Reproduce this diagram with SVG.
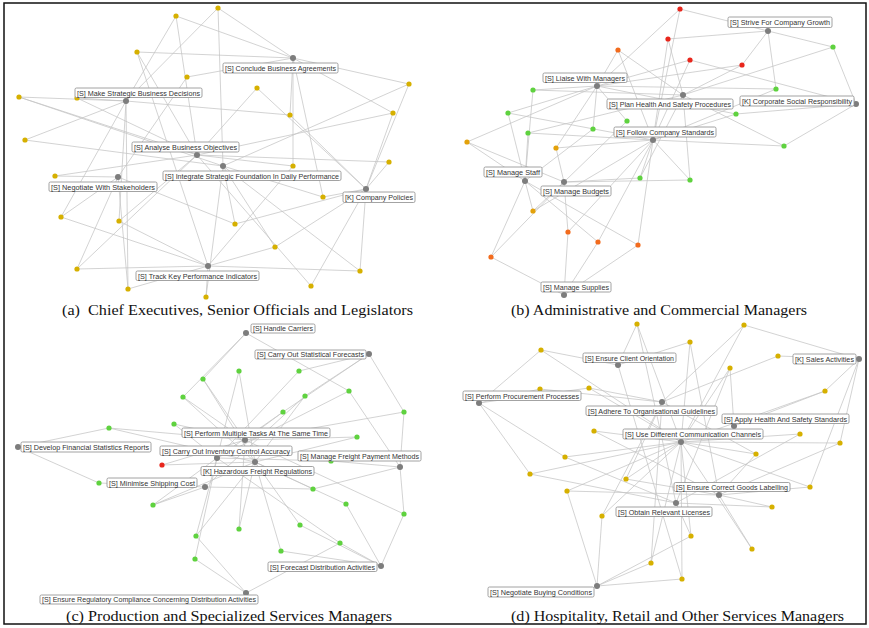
<svg xmlns="http://www.w3.org/2000/svg" width="869" height="628" viewBox="0 0 869 628">
<style>
.e line{stroke:#c4c4c4;stroke-width:0.75}
.y{fill:#d6b000}.g{fill:#5fd23f}.r{fill:#e8261c}.o{fill:#f26b1d}.am{fill:#e3a10a}
.h{fill:#7d7d7d}
.lb{fill:#fff;stroke:#8c8c8c;stroke-width:0.8}
.t{font-family:"Liberation Sans",Arial,sans-serif;font-size:7.4px;fill:#333}
.cap{font-family:"Liberation Serif","Times New Roman",serif;font-size:15.5px;fill:#111}
</style>
<rect x="4" y="3" width="862" height="621" fill="#fff" stroke="#111" stroke-width="1.5"/>
<g id="connectors" class="e">
<!-- panel a -->
<line x1="176" y1="16" x2="293" y2="58"/><line x1="176" y1="16" x2="197" y2="155"/><line x1="176" y1="16" x2="126" y2="101"/>
<line x1="218" y1="8" x2="293" y2="58"/><line x1="218" y1="8" x2="126" y2="101"/><line x1="218" y1="8" x2="223" y2="166"/>
<line x1="137" y1="52" x2="293" y2="58"/><line x1="137" y1="52" x2="197" y2="155"/><line x1="137" y1="52" x2="208" y2="266"/>
<line x1="187" y1="77" x2="293" y2="58"/><line x1="187" y1="77" x2="118" y2="177"/>
<line x1="257" y1="88" x2="197" y2="155"/><line x1="257" y1="88" x2="366" y2="189"/>
<line x1="19" y1="97" x2="126" y2="101"/><line x1="19" y1="97" x2="197" y2="155"/><line x1="19" y1="97" x2="223" y2="166"/>
<line x1="77" y1="98" x2="126" y2="101"/><line x1="77" y1="98" x2="197" y2="155"/>
<line x1="290" y1="115" x2="126" y2="101"/><line x1="290" y1="115" x2="366" y2="189"/><line x1="290" y1="115" x2="293" y2="58"/>
<line x1="409" y1="84" x2="293" y2="58"/><line x1="409" y1="84" x2="223" y2="166"/><line x1="409" y1="84" x2="366" y2="189"/>
<line x1="393" y1="113" x2="293" y2="58"/><line x1="393" y1="113" x2="197" y2="155"/><line x1="393" y1="113" x2="366" y2="189"/>
<line x1="25" y1="140" x2="126" y2="101"/><line x1="25" y1="140" x2="223" y2="166"/>
<line x1="55" y1="176" x2="118" y2="177"/><line x1="55" y1="176" x2="197" y2="155"/>
<line x1="293" y1="166" x2="197" y2="155"/><line x1="293" y1="166" x2="293" y2="58"/><line x1="293" y1="166" x2="208" y2="266"/>
<line x1="389" y1="162" x2="197" y2="155"/><line x1="389" y1="162" x2="366" y2="189"/>
<line x1="323" y1="197" x2="223" y2="166"/><line x1="323" y1="197" x2="366" y2="189"/><line x1="323" y1="197" x2="293" y2="58"/>
<line x1="61" y1="217" x2="118" y2="177"/><line x1="61" y1="217" x2="208" y2="266"/><line x1="61" y1="217" x2="126" y2="101"/>
<line x1="119" y1="221" x2="126" y2="101"/><line x1="119" y1="221" x2="197" y2="155"/><line x1="119" y1="221" x2="208" y2="266"/>
<line x1="235" y1="224" x2="118" y2="177"/><line x1="235" y1="224" x2="223" y2="166"/><line x1="235" y1="224" x2="366" y2="189"/>
<line x1="275" y1="247" x2="223" y2="166"/><line x1="275" y1="247" x2="366" y2="189"/><line x1="275" y1="247" x2="208" y2="266"/>
<line x1="77" y1="269" x2="118" y2="177"/><line x1="77" y1="269" x2="208" y2="266"/><line x1="77" y1="269" x2="197" y2="155"/>
<line x1="360" y1="271" x2="208" y2="266"/><line x1="360" y1="271" x2="366" y2="189"/><line x1="360" y1="271" x2="223" y2="166"/>
<line x1="128" y1="289" x2="118" y2="177"/><line x1="128" y1="289" x2="208" y2="266"/><line x1="128" y1="289" x2="126" y2="101"/>
<line x1="206" y1="297" x2="208" y2="266"/><line x1="206" y1="297" x2="223" y2="166"/>
<line x1="311" y1="286" x2="366" y2="189"/><line x1="311" y1="286" x2="197" y2="155"/>
<!-- panel b -->
<line x1="680" y1="9" x2="768" y2="31"/><line x1="680" y1="9" x2="597" y2="86"/><line x1="680" y1="9" x2="653" y2="140"/>
<line x1="668" y1="39" x2="768" y2="31"/><line x1="668" y1="39" x2="683" y2="95"/><line x1="668" y1="39" x2="653" y2="140"/>
<line x1="690" y1="60" x2="597" y2="86"/><line x1="690" y1="60" x2="653" y2="140"/><line x1="690" y1="60" x2="856" y2="104"/>
<line x1="742" y1="65" x2="768" y2="31"/><line x1="742" y1="65" x2="683" y2="95"/><line x1="742" y1="65" x2="597" y2="86"/>
<line x1="618" y1="50" x2="597" y2="86"/><line x1="618" y1="50" x2="683" y2="95"/><line x1="618" y1="50" x2="653" y2="140"/>
<line x1="833" y1="47" x2="768" y2="31"/><line x1="833" y1="47" x2="856" y2="104"/><line x1="833" y1="47" x2="683" y2="95"/>
<line x1="776" y1="89" x2="768" y2="31"/><line x1="776" y1="89" x2="597" y2="86"/><line x1="776" y1="89" x2="653" y2="140"/>
<line x1="533" y1="90" x2="597" y2="86"/><line x1="533" y1="90" x2="683" y2="95"/><line x1="533" y1="90" x2="525" y2="181"/>
<line x1="508" y1="113" x2="597" y2="86"/><line x1="508" y1="113" x2="653" y2="140"/><line x1="508" y1="113" x2="525" y2="181"/>
<line x1="736" y1="114" x2="597" y2="86"/><line x1="736" y1="114" x2="653" y2="140"/><line x1="736" y1="114" x2="856" y2="104"/>
<line x1="627" y1="121" x2="597" y2="86"/><line x1="627" y1="121" x2="564" y2="182"/>
<line x1="593" y1="129" x2="597" y2="86"/><line x1="593" y1="129" x2="525" y2="181"/>
<line x1="528" y1="133" x2="653" y2="140"/><line x1="528" y1="133" x2="525" y2="181"/><line x1="528" y1="133" x2="683" y2="95"/>
<line x1="784" y1="146" x2="683" y2="95"/><line x1="784" y1="146" x2="856" y2="104"/><line x1="784" y1="146" x2="653" y2="140"/>
<line x1="467" y1="142" x2="597" y2="86"/><line x1="467" y1="142" x2="525" y2="181"/><line x1="467" y1="142" x2="564" y2="182"/>
<line x1="556" y1="148" x2="653" y2="140"/><line x1="556" y1="148" x2="597" y2="86"/><line x1="556" y1="148" x2="564" y2="182"/>
<line x1="640" y1="178" x2="564" y2="182"/><line x1="640" y1="178" x2="653" y2="140"/><line x1="640" y1="178" x2="683" y2="95"/>
<line x1="690" y1="180" x2="564" y2="182"/><line x1="690" y1="180" x2="653" y2="140"/><line x1="690" y1="180" x2="683" y2="95"/>
<line x1="533" y1="211" x2="525" y2="181"/><line x1="533" y1="211" x2="564" y2="182"/><line x1="533" y1="211" x2="653" y2="140"/>
<line x1="568" y1="232" x2="564" y2="182"/><line x1="568" y1="232" x2="564" y2="295"/><line x1="568" y1="232" x2="653" y2="140"/>
<line x1="598" y1="242" x2="525" y2="181"/><line x1="598" y1="242" x2="653" y2="140"/><line x1="598" y1="242" x2="564" y2="295"/>
<line x1="638" y1="245" x2="525" y2="181"/><line x1="638" y1="245" x2="653" y2="140"/><line x1="638" y1="245" x2="564" y2="295"/>
<line x1="491" y1="257" x2="525" y2="181"/><line x1="491" y1="257" x2="564" y2="295"/><line x1="491" y1="257" x2="564" y2="182"/>
<!-- panel c -->
<line x1="203" y1="379" x2="246" y2="333"/><line x1="203" y1="379" x2="255" y2="462"/><line x1="203" y1="379" x2="245" y2="440"/>
<line x1="239" y1="371" x2="255" y2="462"/><line x1="239" y1="371" x2="217" y2="458"/>
<line x1="299" y1="371" x2="369" y2="354"/><line x1="299" y1="371" x2="217" y2="458"/>
<line x1="183" y1="397" x2="246" y2="333"/><line x1="183" y1="397" x2="245" y2="440"/><line x1="183" y1="397" x2="255" y2="462"/>
<line x1="305" y1="396" x2="369" y2="354"/><line x1="305" y1="396" x2="255" y2="462"/><line x1="305" y1="396" x2="205" y2="487"/>
<line x1="349" y1="391" x2="246" y2="333"/><line x1="349" y1="391" x2="400" y2="467"/><line x1="349" y1="391" x2="217" y2="458"/>
<line x1="283" y1="412" x2="369" y2="354"/><line x1="283" y1="412" x2="217" y2="458"/><line x1="283" y1="412" x2="245" y2="440"/>
<line x1="404" y1="412" x2="369" y2="354"/><line x1="404" y1="412" x2="400" y2="467"/><line x1="404" y1="412" x2="245" y2="440"/>
<line x1="174" y1="424" x2="245" y2="440"/><line x1="174" y1="424" x2="217" y2="458"/>
<line x1="109" y1="428" x2="18" y2="447"/><line x1="109" y1="428" x2="245" y2="440"/><line x1="109" y1="428" x2="255" y2="462"/>
<line x1="357" y1="437" x2="245" y2="440"/><line x1="357" y1="437" x2="255" y2="462"/>
<line x1="331" y1="461" x2="400" y2="467"/><line x1="331" y1="461" x2="217" y2="458"/>
<line x1="162" y1="465" x2="255" y2="462"/><line x1="162" y1="465" x2="245" y2="440"/>
<line x1="99" y1="483" x2="18" y2="447"/><line x1="99" y1="483" x2="205" y2="487"/>
<line x1="153" y1="505" x2="205" y2="487"/><line x1="153" y1="505" x2="255" y2="462"/><line x1="153" y1="505" x2="217" y2="458"/>
<line x1="313" y1="489" x2="255" y2="462"/><line x1="313" y1="489" x2="205" y2="487"/><line x1="313" y1="489" x2="400" y2="467"/>
<line x1="346" y1="504" x2="255" y2="462"/><line x1="346" y1="504" x2="381" y2="566"/>
<line x1="404" y1="514" x2="400" y2="467"/><line x1="404" y1="514" x2="381" y2="566"/><line x1="404" y1="514" x2="245" y2="440"/>
<line x1="196" y1="536" x2="255" y2="462"/><line x1="196" y1="536" x2="246" y2="593"/><line x1="196" y1="536" x2="217" y2="458"/>
<line x1="239" y1="529" x2="255" y2="462"/><line x1="239" y1="529" x2="245" y2="440"/>
<line x1="300" y1="525" x2="255" y2="462"/><line x1="300" y1="525" x2="381" y2="566"/>
<line x1="340" y1="543" x2="217" y2="458"/><line x1="340" y1="543" x2="381" y2="566"/><line x1="340" y1="543" x2="246" y2="593"/>
<line x1="281" y1="551" x2="255" y2="462"/><line x1="281" y1="551" x2="381" y2="566"/>
<line x1="195" y1="559" x2="217" y2="458"/><line x1="195" y1="559" x2="246" y2="593"/>
<!-- panel d -->
<line x1="637" y1="324" x2="618" y2="365"/><line x1="637" y1="324" x2="681" y2="442"/><line x1="637" y1="324" x2="676" y2="503"/>
<line x1="744" y1="325" x2="859" y2="359"/><line x1="744" y1="325" x2="681" y2="442"/><line x1="744" y1="325" x2="662" y2="402"/>
<line x1="690" y1="342" x2="618" y2="365"/><line x1="690" y1="342" x2="681" y2="442"/><line x1="690" y1="342" x2="719" y2="495"/>
<line x1="541" y1="350" x2="479" y2="403"/><line x1="541" y1="350" x2="618" y2="365"/><line x1="541" y1="350" x2="681" y2="442"/>
<line x1="778" y1="356" x2="859" y2="359"/><line x1="778" y1="356" x2="662" y2="402"/>
<line x1="730" y1="368" x2="734" y2="426"/><line x1="730" y1="368" x2="681" y2="442"/><line x1="730" y1="368" x2="676" y2="503"/>
<line x1="540" y1="389" x2="479" y2="403"/><line x1="540" y1="389" x2="662" y2="402"/>
<line x1="589" y1="388" x2="662" y2="402"/><line x1="589" y1="388" x2="479" y2="403"/><line x1="589" y1="388" x2="681" y2="442"/>
<line x1="825" y1="391" x2="859" y2="359"/><line x1="825" y1="391" x2="734" y2="426"/><line x1="825" y1="391" x2="681" y2="442"/>
<line x1="594" y1="431" x2="681" y2="442"/><line x1="594" y1="431" x2="719" y2="495"/>
<line x1="800" y1="434" x2="681" y2="442"/><line x1="800" y1="434" x2="676" y2="503"/>
<line x1="840" y1="443" x2="859" y2="359"/><line x1="840" y1="443" x2="681" y2="442"/><line x1="840" y1="443" x2="719" y2="495"/>
<line x1="756" y1="454" x2="681" y2="442"/><line x1="756" y1="454" x2="662" y2="402"/><line x1="756" y1="454" x2="719" y2="495"/>
<line x1="565" y1="457" x2="479" y2="403"/><line x1="565" y1="457" x2="676" y2="503"/><line x1="565" y1="457" x2="681" y2="442"/>
<line x1="530" y1="474" x2="479" y2="403"/><line x1="530" y1="474" x2="681" y2="442"/><line x1="530" y1="474" x2="676" y2="503"/>
<line x1="626" y1="479" x2="681" y2="442"/><line x1="626" y1="479" x2="662" y2="402"/><line x1="626" y1="479" x2="719" y2="495"/>
<line x1="567" y1="491" x2="597" y2="586"/><line x1="567" y1="491" x2="681" y2="442"/><line x1="567" y1="491" x2="719" y2="495"/>
<line x1="810" y1="487" x2="859" y2="359"/><line x1="810" y1="487" x2="719" y2="495"/><line x1="810" y1="487" x2="681" y2="442"/>
<line x1="772" y1="507" x2="719" y2="495"/><line x1="772" y1="507" x2="676" y2="503"/>
<line x1="602" y1="516" x2="681" y2="442"/><line x1="602" y1="516" x2="597" y2="586"/><line x1="602" y1="516" x2="662" y2="402"/>
<line x1="691" y1="536" x2="676" y2="503"/><line x1="691" y1="536" x2="597" y2="586"/><line x1="691" y1="536" x2="681" y2="442"/>
<line x1="752" y1="549" x2="719" y2="495"/><line x1="752" y1="549" x2="681" y2="442"/>
<line x1="651" y1="563" x2="597" y2="586"/><line x1="651" y1="563" x2="681" y2="442"/><line x1="651" y1="563" x2="662" y2="402"/>
<line x1="682" y1="579" x2="597" y2="586"/><line x1="682" y1="579" x2="681" y2="442"/><line x1="682" y1="579" x2="618" y2="365"/>
</g>
<!-- leaf nodes -->
<g id="leaves-a">
<g id="a-l1"><circle class="y" cx="176" cy="16" r="2.6"/></g>
<g id="a-l2"><circle class="y" cx="218" cy="8" r="2.6"/></g>
<g id="a-l3"><circle class="y" cx="137" cy="52" r="2.6"/></g>
<g id="a-l4"><circle class="y" cx="187" cy="77" r="2.6"/></g>
<g id="a-l5"><circle class="y" cx="257" cy="88" r="2.6"/></g>
<g id="a-l6"><circle class="y" cx="19" cy="97" r="2.6"/></g>
<g id="a-l7"><circle class="y" cx="77" cy="98" r="2.6"/></g>
<g id="a-l8"><circle class="y" cx="290" cy="115" r="2.6"/></g>
<g id="a-l9"><circle class="y" cx="409" cy="84" r="2.6"/></g>
<g id="a-l10"><circle class="y" cx="393" cy="113" r="2.6"/></g>
<g id="a-l11"><circle class="y" cx="25" cy="140" r="2.6"/></g>
<g id="a-l12"><circle class="y" cx="55" cy="176" r="2.6"/></g>
<g id="a-l13"><circle class="y" cx="293" cy="166" r="2.6"/></g>
<g id="a-l14"><circle class="y" cx="389" cy="162" r="2.6"/></g>
<g id="a-l15"><circle class="y" cx="323" cy="197" r="2.6"/></g>
<g id="a-l16"><circle class="y" cx="61" cy="217" r="2.6"/></g>
<g id="a-l17"><circle class="y" cx="119" cy="221" r="2.6"/></g>
<g id="a-l18"><circle class="y" cx="235" cy="224" r="2.6"/></g>
<g id="a-l19"><circle class="y" cx="275" cy="247" r="2.6"/></g>
<g id="a-l20"><circle class="y" cx="77" cy="269" r="2.6"/></g>
<g id="a-l21"><circle class="y" cx="360" cy="271" r="2.6"/></g>
<g id="a-l22"><circle class="y" cx="128" cy="289" r="2.6"/></g>
<g id="a-l23"><circle class="y" cx="206" cy="297" r="2.6"/></g>
<g id="a-l24"><circle class="y" cx="311" cy="286" r="2.6"/></g>
</g>
<g id="leaves-b">
<g id="b-l1"><circle class="r" cx="680" cy="9" r="2.6"/></g>
<g id="b-l2"><circle class="r" cx="668" cy="39" r="2.6"/></g>
<g id="b-l3"><circle class="r" cx="690" cy="60" r="2.6"/></g>
<g id="b-l4"><circle class="r" cx="742" cy="65" r="2.6"/></g>
<g id="b-l5"><circle class="o" cx="618" cy="50" r="2.6"/></g>
<g id="b-l6"><circle class="g" cx="833" cy="47" r="2.6"/></g>
<g id="b-l7"><circle class="g" cx="776" cy="89" r="2.6"/></g>
<g id="b-l8"><circle class="g" cx="533" cy="90" r="2.6"/></g>
<g id="b-l9"><circle class="g" cx="508" cy="113" r="2.6"/></g>
<g id="b-l10"><circle class="g" cx="736" cy="114" r="2.6"/></g>
<g id="b-l11"><circle class="g" cx="627" cy="121" r="2.6"/></g>
<g id="b-l12"><circle class="g" cx="593" cy="129" r="2.6"/></g>
<g id="b-l13"><circle class="g" cx="528" cy="133" r="2.6"/></g>
<g id="b-l14"><circle class="g" cx="784" cy="146" r="2.6"/></g>
<g id="b-l15"><circle class="am" cx="467" cy="142" r="2.6"/></g>
<g id="b-l16"><circle class="am" cx="556" cy="148" r="2.6"/></g>
<g id="b-l17"><circle class="g" cx="640" cy="178" r="2.6"/></g>
<g id="b-l18"><circle class="g" cx="690" cy="180" r="2.6"/></g>
<g id="b-l19"><circle class="am" cx="533" cy="211" r="2.6"/></g>
<g id="b-l20"><circle class="o" cx="568" cy="232" r="2.6"/></g>
<g id="b-l21"><circle class="o" cx="598" cy="242" r="2.6"/></g>
<g id="b-l22"><circle class="o" cx="638" cy="245" r="2.6"/></g>
<g id="b-l23"><circle class="o" cx="491" cy="257" r="2.6"/></g>
</g>
<g id="leaves-c">
<g id="c-l1"><circle class="g" cx="203" cy="379" r="2.6"/></g>
<g id="c-l2"><circle class="g" cx="239" cy="371" r="2.6"/></g>
<g id="c-l3"><circle class="g" cx="299" cy="371" r="2.6"/></g>
<g id="c-l4"><circle class="g" cx="183" cy="397" r="2.6"/></g>
<g id="c-l5"><circle class="g" cx="305" cy="396" r="2.6"/></g>
<g id="c-l6"><circle class="g" cx="349" cy="391" r="2.6"/></g>
<g id="c-l7"><circle class="g" cx="283" cy="412" r="2.6"/></g>
<g id="c-l8"><circle class="g" cx="404" cy="412" r="2.6"/></g>
<g id="c-l9"><circle class="g" cx="174" cy="424" r="2.6"/></g>
<g id="c-l10"><circle class="g" cx="109" cy="428" r="2.6"/></g>
<g id="c-l11"><circle class="g" cx="357" cy="437" r="2.6"/></g>
<g id="c-l12"><circle class="g" cx="331" cy="461" r="2.6"/></g>
<g id="c-l13"><circle class="r" cx="162" cy="465" r="2.6"/></g>
<g id="c-l14"><circle class="g" cx="99" cy="483" r="2.6"/></g>
<g id="c-l15"><circle class="g" cx="153" cy="505" r="2.6"/></g>
<g id="c-l16"><circle class="g" cx="313" cy="489" r="2.6"/></g>
<g id="c-l17"><circle class="g" cx="346" cy="504" r="2.6"/></g>
<g id="c-l18"><circle class="g" cx="404" cy="514" r="2.6"/></g>
<g id="c-l19"><circle class="g" cx="196" cy="536" r="2.6"/></g>
<g id="c-l20"><circle class="g" cx="239" cy="529" r="2.6"/></g>
<g id="c-l21"><circle class="g" cx="300" cy="525" r="2.6"/></g>
<g id="c-l22"><circle class="g" cx="340" cy="543" r="2.6"/></g>
<g id="c-l23"><circle class="g" cx="281" cy="551" r="2.6"/></g>
<g id="c-l24"><circle class="g" cx="195" cy="559" r="2.6"/></g>
</g>
<g id="leaves-d">
<g id="d-l1"><circle class="y" cx="637" cy="324" r="2.6"/></g>
<g id="d-l2"><circle class="y" cx="744" cy="325" r="2.6"/></g>
<g id="d-l3"><circle class="y" cx="690" cy="342" r="2.6"/></g>
<g id="d-l4"><circle class="y" cx="541" cy="350" r="2.6"/></g>
<g id="d-l5"><circle class="y" cx="778" cy="356" r="2.6"/></g>
<g id="d-l6"><circle class="y" cx="730" cy="368" r="2.6"/></g>
<g id="d-l7"><circle class="y" cx="540" cy="389" r="2.6"/></g>
<g id="d-l8"><circle class="y" cx="589" cy="388" r="2.6"/></g>
<g id="d-l9"><circle class="y" cx="825" cy="391" r="2.6"/></g>
<g id="d-l10"><circle class="y" cx="594" cy="431" r="2.6"/></g>
<g id="d-l11"><circle class="y" cx="800" cy="434" r="2.6"/></g>
<g id="d-l12"><circle class="y" cx="840" cy="443" r="2.6"/></g>
<g id="d-l13"><circle class="y" cx="756" cy="454" r="2.6"/></g>
<g id="d-l14"><circle class="y" cx="565" cy="457" r="2.6"/></g>
<g id="d-l15"><circle class="y" cx="530" cy="474" r="2.6"/></g>
<g id="d-l16"><circle class="y" cx="626" cy="479" r="2.6"/></g>
<g id="d-l17"><circle class="y" cx="567" cy="491" r="2.6"/></g>
<g id="d-l18"><circle class="y" cx="810" cy="487" r="2.6"/></g>
<g id="d-l19"><circle class="y" cx="772" cy="507" r="2.6"/></g>
<g id="d-l20"><circle class="y" cx="602" cy="516" r="2.6"/></g>
<g id="d-l21"><circle class="y" cx="691" cy="536" r="2.6"/></g>
<g id="d-l22"><circle class="y" cx="752" cy="549" r="2.6"/></g>
<g id="d-l23"><circle class="y" cx="651" cy="563" r="2.6"/></g>
<g id="d-l24"><circle class="y" cx="682" cy="579" r="2.6"/></g>
</g>
<!-- hub nodes (panel a) -->
<g id="a-conclude"><circle class="h" cx="293" cy="58" r="3"/><rect class="lb" x="223" y="63" width="115" height="10" rx="1.5"/><text class="t" x="225" y="71" textLength="111" lengthAdjust="spacingAndGlyphs">[S] Conclude Business Agreements</text></g>
<g id="a-make"><circle class="h" cx="126" cy="101" r="3"/><rect class="lb" x="75" y="88" width="127" height="9.5" rx="1.5"/><text class="t" x="77" y="95.6" textLength="123" lengthAdjust="spacingAndGlyphs">[S] Make Strategic Business Decisions</text></g>
<g id="a-analyse"><circle class="h" cx="197" cy="155" r="3"/><rect class="lb" x="132" y="142" width="107" height="10" rx="1.5"/><text class="t" x="134" y="150" textLength="103" lengthAdjust="spacingAndGlyphs">[S] Analyse Business Objectives</text></g>
<g id="a-integrate"><circle class="h" cx="223" cy="166" r="3"/><rect class="lb" x="163" y="171" width="178" height="9.5" rx="1.5"/><text class="t" x="165" y="178.6" textLength="174" lengthAdjust="spacingAndGlyphs">[S] Integrate Strategic Foundation In Daily Performance</text></g>
<g id="a-negotiate"><circle class="h" cx="118" cy="177" r="3"/><rect class="lb" x="49" y="182" width="108" height="9.5" rx="1.5"/><text class="t" x="51" y="189.6" textLength="104" lengthAdjust="spacingAndGlyphs">[S] Negotiate With Stakeholders</text></g>
<g id="a-policies"><circle class="h" cx="366" cy="189" r="3"/><rect class="lb" x="343" y="192" width="72" height="10.5" rx="1.5"/><text class="t" x="345" y="200.3" textLength="68" lengthAdjust="spacingAndGlyphs">[K] Company Policies</text></g>
<g id="a-track"><circle class="h" cx="208" cy="266" r="3"/><rect class="lb" x="136" y="271" width="123" height="9.5" rx="1.5"/><text class="t" x="138" y="278.6" textLength="119" lengthAdjust="spacingAndGlyphs">[S] Track Key Performance Indicators</text></g>
<!-- hub nodes (panel b) -->
<g id="b-strive"><circle class="h" cx="768" cy="31" r="3"/><rect class="lb" x="728" y="17" width="104" height="10.5" rx="1.5"/><text class="t" x="730" y="25.3" textLength="100" lengthAdjust="spacingAndGlyphs">[S] Strive For Company Growth</text></g>
<g id="b-liaise"><circle class="h" cx="597" cy="86" r="3"/><rect class="lb" x="543" y="73" width="84" height="9.5" rx="1.5"/><text class="t" x="545" y="80.6" textLength="80" lengthAdjust="spacingAndGlyphs">[S] Liaise With Managers</text></g>
<g id="b-planhs"><circle class="h" cx="683" cy="95" r="3"/><rect class="lb" x="607" y="99" width="126" height="10" rx="1.5"/><text class="t" x="609" y="107" textLength="122" lengthAdjust="spacingAndGlyphs">[S] Plan Health And Safety Procedures</text></g>
<g id="b-csr"><circle class="h" cx="856" cy="104" r="3"/><rect class="lb" x="740" y="96" width="114" height="10" rx="1.5"/><text class="t" x="742" y="104" textLength="110" lengthAdjust="spacingAndGlyphs">[K] Corporate Social Responsibility</text></g>
<g id="b-follow"><circle class="h" cx="653" cy="140" r="3"/><rect class="lb" x="614" y="127" width="102" height="10" rx="1.5"/><text class="t" x="616" y="135" textLength="98" lengthAdjust="spacingAndGlyphs">[S] Follow Company Standards</text></g>
<g id="b-staff"><circle class="h" cx="525" cy="181" r="3"/><rect class="lb" x="484" y="167" width="58" height="10" rx="1.5"/><text class="t" x="486" y="175" textLength="54" lengthAdjust="spacingAndGlyphs">[S] Manage Staff</text></g>
<g id="b-budgets"><circle class="h" cx="564" cy="182" r="3"/><rect class="lb" x="541" y="186" width="70" height="10" rx="1.5"/><text class="t" x="543" y="194" textLength="66" lengthAdjust="spacingAndGlyphs">[S] Manage Budgets</text></g>
<g id="b-supplies"><circle class="h" cx="564" cy="295" r="3"/><rect class="lb" x="541" y="282" width="70" height="10" rx="1.5"/><text class="t" x="543" y="290" textLength="66" lengthAdjust="spacingAndGlyphs">[S] Manage Supplies</text></g>
<!-- hub nodes (panel c) -->
<g id="c-carriers"><circle class="h" cx="246" cy="333" r="3"/><rect class="lb" x="251" y="324" width="64" height="9" rx="1.5"/><text class="t" x="253" y="331.2" textLength="60" lengthAdjust="spacingAndGlyphs">[S] Handle Carriers</text></g>
<g id="c-statforecast"><circle class="h" cx="369" cy="354" r="3"/><rect class="lb" x="255" y="350" width="111" height="9" rx="1.5"/><text class="t" x="257" y="357.2" textLength="107" lengthAdjust="spacingAndGlyphs">[S] Carry Out Statistical Forecasts</text></g>
<g id="c-multitask"><circle class="h" cx="245" cy="440" r="3"/><rect class="lb" x="182" y="428" width="148" height="9.5" rx="1.5"/><text class="t" x="184" y="435.6" textLength="144" lengthAdjust="spacingAndGlyphs">[S] Perform Multiple Tasks At The Same Time</text></g>
<g id="c-develop"><circle class="h" cx="18" cy="447" r="3"/><rect class="lb" x="21" y="442" width="130" height="10" rx="1.5"/><text class="t" x="23" y="450" textLength="126" lengthAdjust="spacingAndGlyphs">[S] Develop Financial Statistics Reports</text></g>
<g id="c-inventory"><circle class="h" cx="217" cy="458" r="3"/><rect class="lb" x="160" y="446" width="132" height="9.5" rx="1.5"/><text class="t" x="162" y="453.6" textLength="128" lengthAdjust="spacingAndGlyphs">[S] Carry Out Inventory Control Accuracy</text></g>
<g id="c-freightpay"><circle class="h" cx="400" cy="467" r="3"/><rect class="lb" x="298" y="451" width="123" height="10" rx="1.5"/><text class="t" x="300" y="459" textLength="119" lengthAdjust="spacingAndGlyphs">[S] Manage Freight Payment Methods</text></g>
<g id="c-hazardous"><circle class="h" cx="255" cy="462" r="3"/><rect class="lb" x="201" y="466.5" width="113" height="9" rx="1.5"/><text class="t" x="203" y="473.7" textLength="109" lengthAdjust="spacingAndGlyphs">[K] Hazardous Freight Regulations</text></g>
<g id="c-shipping"><circle class="h" cx="205" cy="487" r="3"/><rect class="lb" x="107" y="478" width="90" height="9.5" rx="1.5"/><text class="t" x="109" y="485.6" textLength="86" lengthAdjust="spacingAndGlyphs">[S] Minimise Shipping Cost</text></g>
<g id="c-distribution"><circle class="h" cx="381" cy="566" r="3"/><rect class="lb" x="268" y="562" width="109" height="9.5" rx="1.5"/><text class="t" x="270" y="569.6" textLength="105" lengthAdjust="spacingAndGlyphs">[S] Forecast Distribution Activities</text></g>
<g id="c-compliance"><circle class="h" cx="246" cy="593" r="3"/><rect class="lb" x="40" y="595" width="218" height="9" rx="1.5"/><text class="t" x="42" y="602.2" textLength="214" lengthAdjust="spacingAndGlyphs">[S] Ensure Regulatory Compliance Concerning Distribution Activities</text></g>
<!-- hub nodes (panel d) -->
<g id="d-client"><circle class="h" cx="618" cy="365" r="3"/><rect class="lb" x="583" y="353" width="93" height="9.5" rx="1.5"/><text class="t" x="585" y="360.6" textLength="89" lengthAdjust="spacingAndGlyphs">[S] Ensure Client Orientation</text></g>
<g id="d-sales"><circle class="h" cx="859" cy="359" r="3"/><rect class="lb" x="793" y="354" width="63" height="10" rx="1.5"/><text class="t" x="795" y="362" textLength="59" lengthAdjust="spacingAndGlyphs">[K] Sales Activities</text></g>
<g id="d-procurement"><circle class="h" cx="479" cy="403" r="3"/><rect class="lb" x="463" y="391" width="118" height="9.5" rx="1.5"/><text class="t" x="465" y="398.6" textLength="114" lengthAdjust="spacingAndGlyphs">[S] Perform Procurement Processes</text></g>
<g id="d-adhere"><circle class="h" cx="662" cy="402" r="3"/><rect class="lb" x="586" y="406" width="131" height="9.5" rx="1.5"/><text class="t" x="588" y="413.6" textLength="127" lengthAdjust="spacingAndGlyphs">[S] Adhere To Organisational Guidelines</text></g>
<g id="d-applyhs"><circle class="h" cx="734" cy="426" r="3"/><rect class="lb" x="722" y="414" width="127" height="9.5" rx="1.5"/><text class="t" x="724" y="421.6" textLength="123" lengthAdjust="spacingAndGlyphs">[S] Apply Health And Safety Standards</text></g>
<g id="d-communication"><circle class="h" cx="681" cy="442" r="3"/><rect class="lb" x="623" y="429" width="140" height="10" rx="1.5"/><text class="t" x="625" y="437" textLength="136" lengthAdjust="spacingAndGlyphs">[S] Use Different Communication Channels</text></g>
<g id="d-labelling"><circle class="h" cx="719" cy="495" r="3"/><rect class="lb" x="674" y="482.5" width="116" height="9" rx="1.5"/><text class="t" x="676" y="489.7" textLength="112" lengthAdjust="spacingAndGlyphs">[S] Ensure Correct Goods Labelling</text></g>
<g id="d-licenses"><circle class="h" cx="676" cy="503" r="3"/><rect class="lb" x="616" y="507" width="96" height="9.5" rx="1.5"/><text class="t" x="618" y="514.6" textLength="92" lengthAdjust="spacingAndGlyphs">[S] Obtain Relevant Licenses</text></g>
<g id="d-buying"><circle class="h" cx="597" cy="586" r="3"/><rect class="lb" x="488" y="587" width="106" height="10" rx="1.5"/><text class="t" x="490" y="595" textLength="102" lengthAdjust="spacingAndGlyphs">[S] Negotiate Buying Conditions</text></g>
<!-- captions -->
<g id="captions">
<text class="cap" x="62" y="315" textLength="351" lengthAdjust="spacingAndGlyphs" xml:space="preserve">(a)  Chief Executives, Senior Officials and Legislators</text>
<text class="cap" x="511" y="315" textLength="296" lengthAdjust="spacingAndGlyphs">(b) Administrative and Commercial Managers</text>
<text class="cap" x="66" y="621" textLength="326" lengthAdjust="spacingAndGlyphs">(c) Production and Specialized Services Managers</text>
<text class="cap" x="511" y="621" textLength="333" lengthAdjust="spacingAndGlyphs">(d) Hospitality, Retail and Other Services Managers</text>
</g>
</svg>
